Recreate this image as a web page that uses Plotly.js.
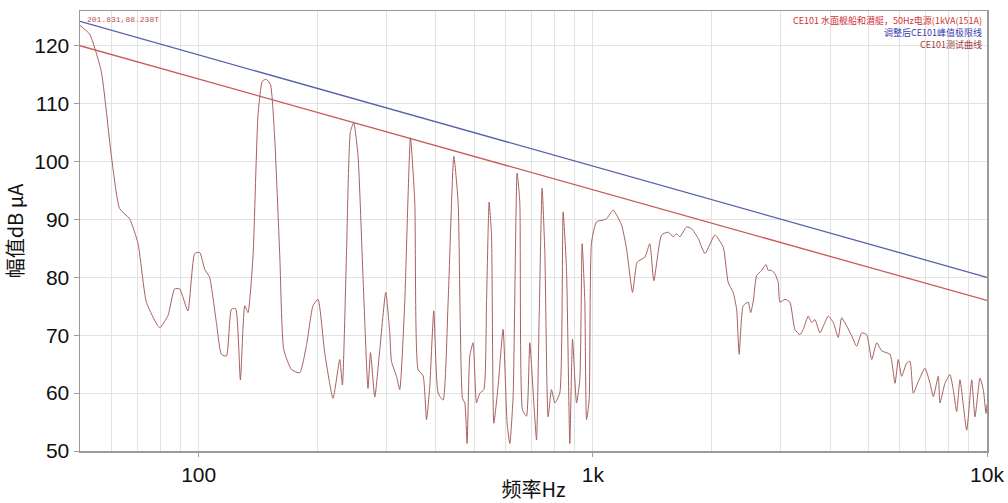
<!DOCTYPE html>
<html>
<head>
<meta charset="utf-8">
<script src="https://cdn.plot.ly/plotly-3.0.1.min.js"></script>
<style>html,body{margin:0;padding:0;background:#fff;}#chart{width:1008px;height:503px;}</style>
</head>
<body>
<div id="chart"></div>
<script>
// Test curve (frequency Hz, amplitude dB μA)
const testFreq = [50,52.9,56.6,60,63,66.8,70.2,73.7,79.6,83.6,86.9,89.5,93.9,97.7,100.6,103.6,106.6,110.9,114.2,117.6,121.1,124.1,127.6,130.9,133.4,137.4,141.5,145.1,148.5,152.1,155.9,160.6,164.4,171.9,180.4,187.7,195,200.8,208.8,219.2,228,231.6,237.1,242.7,247.4,253.7,261.2,268.9,272.9,279.8,288.1,298.3,305.4,308.4,317.6,323.7,333.3,344.6,353.4,360.3,371,378.5,385.8,394.9,405,417,429.4,443.9,455.2,467.1,473.4,479.8,487.4,496.9,506.9,516.8,529,537.4,545.6,553.3,560.8,575,592,606.1,615.7,627.7,642.5,652.7,663.2,678.8,692,708.5,719.7,730.7,743.6,755.5,769.9,785.5,800.8,824.5,840.6,857.5,874.2,888.2,909.2,926.9,939.4,954.4,963.9,978.6,992.4,1022,1062,1083,1126,1183,1218,1261,1296,1355,1395,1428,1494,1553,1599,1631,1663,1729,1780,1851,1925,2040,2142,2205,2270,2316,2351,2407,2479,2514,2553,2604,2681,2749,2786,2842,2897,2954,2983,3072,3162,3256,3353,3418,3519,3590,3660,3768,3880,3955,4073,4194,4278,4405,4536,4670,4809,4952,5099,5250,5406,5674,5843,5955,6074,6254,6376,6501,6694,6961,7168,7308,7523,7598,7823,8055,8212,8377,8540,8881,9145,9323,9598,9786,9942,10000];
const testDb = [123.5,122,115.6,101.2,91.9,90.1,85.8,75.7,71.3,73.4,78,78,74.2,84.1,84.3,81.4,80,72.2,66.7,66.4,74.5,74.6,62.3,75.1,73.9,83.8,108.2,113.9,114.2,113.3,104.1,83.8,67.5,64.1,63.5,68.2,75.1,76.2,67,59.1,65.8,61.4,83.8,105.2,106.7,101,80,60.8,67,59.3,67.5,77.4,70.4,65.5,62.9,60.6,75.7,104.1,93,64.1,63,55.4,61.2,74.2,60,58.8,75.7,100.9,93,59.1,58.3,51.3,66.4,68.7,58.3,60,60.6,75.7,93,87.3,54.8,61.2,71,54.8,51.3,59.4,98,93,57.1,56,68.7,58.3,51.9,72.7,95.4,84.3,55.9,60.6,58.3,60,91.3,81.4,51.3,69.3,58.3,62.3,85.8,75.7,55.4,58.8,86,89.6,89.9,90.1,91.6,89,84.9,77.4,82.6,83.5,85.8,79.4,87.3,87.8,87,87.5,87,88.7,88.4,86.7,84.1,87.3,85.2,79.1,77.4,74.5,66.7,75.1,75.7,73.9,75.9,80.3,81.2,82.2,81.2,81.2,80.6,79.1,75.7,76.2,75.7,71,70.1,71,73.3,72.2,72.7,70.4,72.2,73.3,72.2,69.6,73,71.6,69.9,68.1,70.4,70.1,65.8,68.7,67.3,66.7,61.7,65.8,62.9,65.2,65.5,60,62,64.3,61.7,59.4,62.9,58.3,61.7,63.2,60.6,56.8,62.3,53.6,62.3,55.9,62.6,60.6,56.5,58];

// Limit lines
const limitFreq = [50, 10000];
const adjustedLimitDb = [124.2, 80];   // blue: 调整后CE101峰值极限线
const ce101LimitDb = [120, 76];        // red: CE101 水面舰船和潜艇

const xTickVals = [100, 1000, 10000];
const xTickText = ['100', '1k', '10k'];
const yTickVals = [50, 60, 70, 80, 90, 100, 110, 120];

const legendTexts = ['CE101 水面舰船和潜艇，50Hz电源(1kVA(151A)', '调整后CE101峰值极限线', 'CE101测试曲线'];
const legendColors = ['#d03030', '#3b3bb0', '#a04040'];
const cursorText = '201.831,88.238T';

const traces = [
  {x: limitFreq, y: adjustedLimitDb, mode: 'lines', line: {color: '#5560a8', width: 1.3}, hoverinfo: 'skip'},
  {x: limitFreq, y: ce101LimitDb, mode: 'lines', line: {color: '#c85a55', width: 1.3}, hoverinfo: 'skip'},
  {x: testFreq, y: testDb, mode: 'lines', line: {color: '#a8605e', width: 1, shape: 'spline', smoothing: 0.5}, hoverinfo: 'skip'}
];

const annotations = legendTexts.map((t, i) => ({
  xref: 'paper', yref: 'paper', x: 0.997, y: 0.998 - i * 0.027, xanchor: 'right', yanchor: 'top',
  text: t, showarrow: false, font: {size: 9, color: legendColors[i], family: 'Noto Sans CJK SC, DejaVu Sans'}
}));
annotations.push({
  xref: 'paper', yref: 'paper', x: 0.006, y: 0.995, xanchor: 'left', yanchor: 'top',
  text: cursorText, showarrow: false, font: {size: 8, color: '#c05050', family: 'Liberation Mono, DejaVu Sans Mono'}
});

const layout = {
  width: 1008, height: 503,
  margin: {l: 80, r: 21, t: 11, b: 52},
  paper_bgcolor: '#ffffff', plot_bgcolor: '#ffffff',
  showlegend: false,
  font: {family: 'Liberation Sans, Arial, Noto Sans CJK SC', color: '#111'},
  xaxis: {
    type: 'log', range: [Math.log10(50), 4],
    tickvals: xTickVals, ticktext: xTickText,
    tickfont: {size: 21, color: '#111'},
    showgrid: true, gridcolor: '#e2e2e2', gridwidth: 1,
    minor: {dtick: 'D1', showgrid: true, gridcolor: '#e2e2e2', gridwidth: 1},
    showline: true, linecolor: '#9a9a9a', linewidth: 1.5, mirror: true,
    ticks: 'outside', ticklen: 4, tickcolor: '#9a9a9a',
    zeroline: false,
    title: {text: '频率Hz', font: {size: 20, family: 'Noto Sans CJK SC, Liberation Sans'}, standoff: 8}
  },
  yaxis: {
    range: [50, 126],
    tickvals: yTickVals,
    tickfont: {size: 21, color: '#111'},
    showgrid: true, gridcolor: '#e2e2e2', gridwidth: 1,
    showline: true, linecolor: '#9a9a9a', linewidth: 1.5, mirror: true,
    ticks: 'outside', ticklen: 5, tickcolor: '#9a9a9a',
    zeroline: false,
    title: {text: '幅值dB μA', font: {size: 20, family: 'Noto Sans CJK SC, Liberation Sans'}, standoff: 6}
  },
  annotations: annotations
};

Plotly.newPlot('chart', traces, layout, {staticPlot: true, displayModeBar: false});
</script>
</body>
</html>
